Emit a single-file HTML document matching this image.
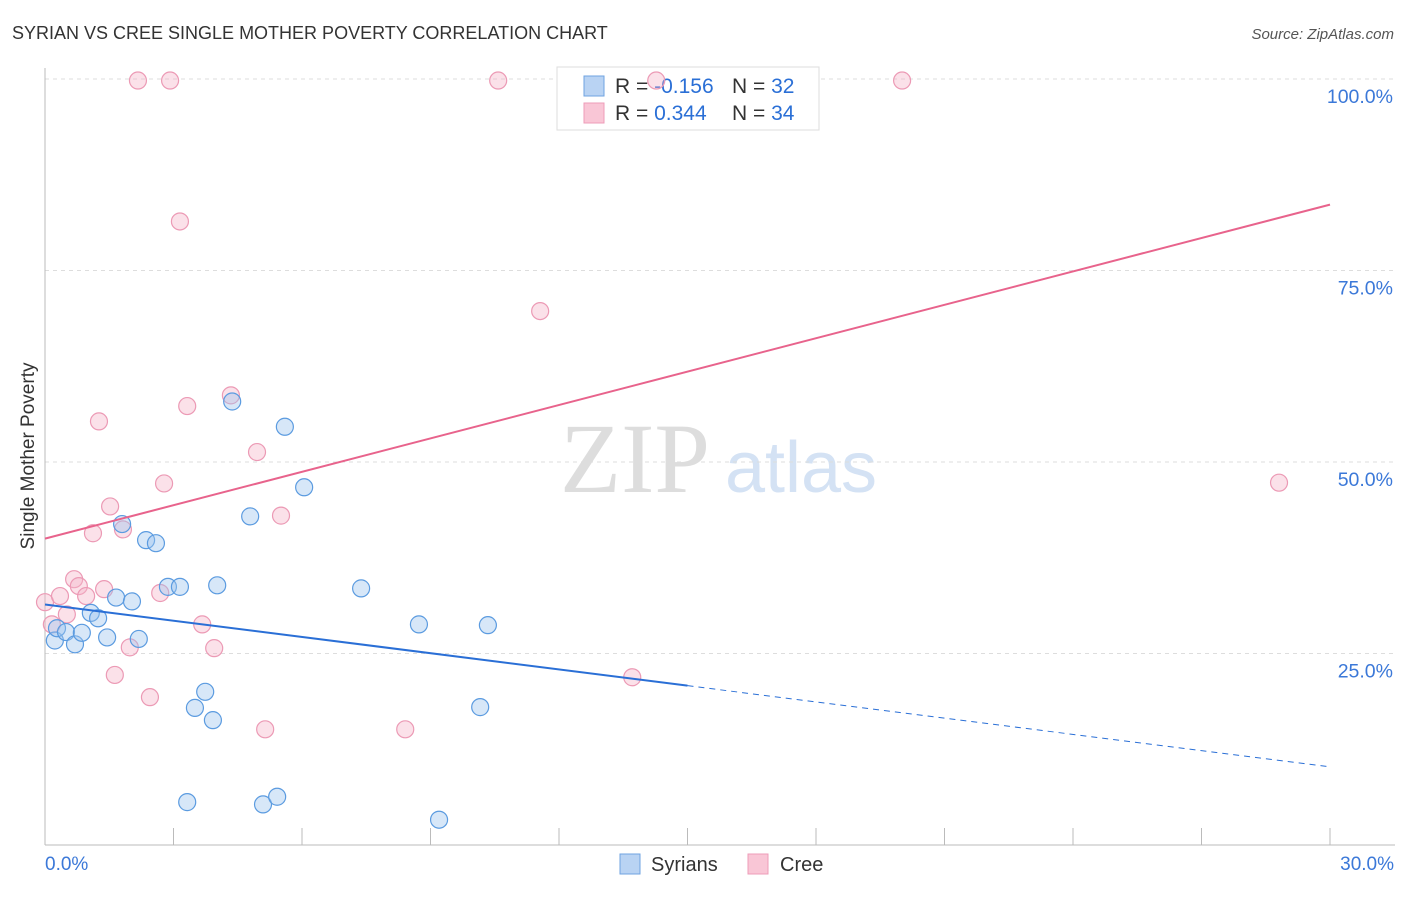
<!DOCTYPE html>
<html><head><meta charset="utf-8"><style>
body{margin:0;background:#fff;font-family:"Liberation Sans",sans-serif}
</style></head><body>
<svg id="c" width="1406" height="892" font-family="Liberation Sans, sans-serif">
<text x="12" y="39" font-size="18" fill="#333">SYRIAN VS CREE SINGLE MOTHER POVERTY CORRELATION CHART</text>
<text x="1394" y="39" font-size="15" fill="#555" font-style="italic" text-anchor="end">Source: ZipAtlas.com</text>
<text x="34" y="456" font-size="19" fill="#333" transform="rotate(-90 34 456)" text-anchor="middle">Single Mother Poverty</text>
<text x="635" y="492" font-size="100" fill="#ddd" style="font-family:'Liberation Serif',serif" text-anchor="middle">ZIP</text>
<text x="801" y="492" font-size="72" fill="#d4e2f4" text-anchor="middle">atlas</text>
<g id="grid"></g>
<g>
<rect x="557" y="67" width="262" height="63" fill="#fff" stroke="#ddd"/>
<rect x="584" y="76" width="20" height="20" fill="#b9d3f3" stroke="#6fa3e0"/>
<rect x="584" y="103" width="20" height="20" fill="#f9c6d6" stroke="#ee9cb8"/>
<text x="615" y="93" font-size="21" fill="#333">R = <tspan fill="#2a6fd6">-0.156</tspan></text>
<text x="732" y="93" font-size="21" fill="#333">N = <tspan fill="#2a6fd6">32</tspan></text>
<text x="615" y="120" font-size="21" fill="#333">R = <tspan fill="#2a6fd6"> 0.344</tspan></text>
<text x="732" y="120" font-size="21" fill="#333">N = <tspan fill="#2a6fd6">34</tspan></text>
</g>
<g id="marks"></g>
<g>
<rect x="620" y="854" width="20" height="20" fill="#b9d3f3" stroke="#6fa3e0"/>
<text x="651" y="871" font-size="20" fill="#333">Syrians</text>
<rect x="748" y="854" width="20" height="20" fill="#f9c6d6" stroke="#ee9cb8"/>
<text x="780" y="871" font-size="20" fill="#333">Cree</text>
</g>
<text x="45" y="870" font-size="19" fill="#3b78d8">0.0%</text>
<text x="1394" y="870" font-size="19" fill="#3b78d8" text-anchor="end">30.0%</text>
</svg>
<script>
const yTicks=[100,75,50,25];
const yTickLabels=["100.0%","75.0%","50.0%","25.0%"];
const syriansX=[0.23,0.28,0.49,0.70,0.86,1.07,1.24,1.45,1.66,1.80,2.03,2.19,2.36,2.59,2.87,3.15,3.32,3.50,3.74,3.92,4.02,4.37,4.79,5.09,5.42,5.60,6.05,7.38,8.73,9.20,10.16,10.34];
const syriansY=[26.7,28.3,27.8,26.2,27.7,30.3,29.6,27.1,32.3,41.9,31.8,26.9,39.8,39.4,33.7,33.7,5.6,17.9,20.0,16.3,33.9,57.9,42.9,5.3,6.3,54.6,46.7,33.5,28.8,3.3,18.0,28.7];
const creeX=[0,0.16,0.35,0.51,0.68,0.79,0.96,1.12,1.26,1.38,1.52,1.63,1.82,1.98,2.17,2.45,2.69,2.78,2.92,3.15,3.32,3.67,3.95,4.34,4.95,5.14,5.51,8.41,10.58,11.56,13.71,14.27,20.01,28.81];
const creeY=[31.7,28.8,32.5,30.1,34.7,33.8,32.5,40.7,55.3,33.4,44.2,22.2,41.2,25.8,99.8,19.3,32.9,47.2,99.8,81.4,57.3,28.8,25.7,58.7,51.3,15.1,43.0,15.1,99.8,69.7,21.9,99.8,99.8,47.3];
const syriansTrend=[31.4,10.2];
const creeTrend=[40.0,83.6];
const NS='http://www.w3.org/2000/svg';
const xs=v=>45+v*(1285/30);
const ys=v=>845-v*(766/100);
function mk(tag,attrs,parent){const e=document.createElementNS(NS,tag);for(const k in attrs)e.setAttribute(k,attrs[k]);parent.appendChild(e);return e;}
const grid=document.getElementById('grid'),marks=document.getElementById('marks');
yTicks.forEach((t,i)=>{
 const l=mk('line',{x1:45,x2:1395,y1:ys(t),y2:ys(t),stroke:'#ddd','stroke-dasharray':'4,4'},grid);
 
 
 const tx=mk('text',{x:1393,y:ys(t)+24,'font-size':19.5,fill:'#3b78d8','text-anchor':'end'},grid);
 tx.textContent=yTickLabels[i];
 
 
});
const ax=mk('line',{x1:45,x2:1395,y1:845,y2:845,stroke:'#bbb'},grid);


const ay=mk('line',{x1:45,x2:45,y1:68,y2:845,stroke:'#bbb'},grid);


for(let i=3;i<=30;i+=3){
 const tk=mk('line',{x1:xs(i),x2:xs(i),y1:828,y2:845,stroke:'#bbb'},grid);
 
 
}
function pts(X,Y,fill,stroke,name){
 X.forEach((x,i)=>{
  const c=mk('circle',{cx:xs(x),cy:ys(Y[i]),r:8.5,fill:fill,'fill-opacity':0.4,stroke:stroke,'stroke-width':1.2},marks);
  
  
 });
}
pts(creeX,creeY,'#f6b3c8','#ec9ab5','cree-point');
pts(syriansX,syriansY,'#9cc2ee','#5b9be0','syrians-point');
const ySol=syriansTrend[0]+(syriansTrend[1]-syriansTrend[0])*15/30;
const b1=mk('line',{x1:xs(0),y1:ys(syriansTrend[0]),x2:xs(15),y2:ys(ySol),stroke:'#2a6fd6','stroke-width':2},marks);


const b2=mk('line',{x1:xs(15),y1:ys(ySol),x2:xs(30),y2:ys(syriansTrend[1]),stroke:'#2a6fd6','stroke-width':1,'stroke-dasharray':'6,5'},marks);


const p1=mk('line',{x1:xs(0),y1:ys(creeTrend[0]),x2:xs(30),y2:ys(creeTrend[1]),stroke:'#e8638c','stroke-width':2},marks);


</script>
</body></html>
